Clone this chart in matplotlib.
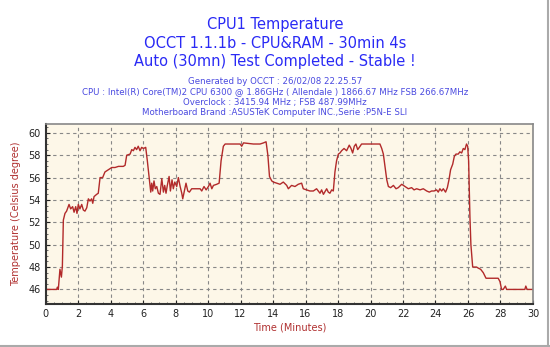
import numpy as np
import matplotlib
matplotlib.use("Agg")
import matplotlib.pyplot as plt
from matplotlib.ticker import MultipleLocator
from matplotlib.lines import Line2D

# Dati (minuti, gradi Celsius)
minutes = [
    0.0, 0.68, 0.72, 0.78, 0.88, 0.97, 1.03, 1.09, 1.19, 1.29, 1.44, 1.54, 1.66, 1.75, 1.85,
    1.93, 2.01, 2.11, 2.22, 2.32, 2.42, 2.53, 2.63, 2.73, 2.83, 2.9, 2.98, 3.14, 3.24, 3.35,
    3.51, 3.65, 3.86, 4.07, 4.27, 4.48, 4.78, 4.89, 4.99, 5.2, 5.3, 5.4, 5.5, 5.6, 5.7,
    5.81, 5.91, 6.02, 6.16, 6.26, 6.37, 6.47, 6.53, 6.59, 6.67, 6.75, 6.84, 6.94, 7.04, 7.15,
    7.25, 7.33, 7.41, 7.49, 7.6, 7.68, 7.78, 7.86, 7.95, 8.07, 8.17, 8.28, 8.38, 8.44, 8.54,
    8.64, 8.75, 8.85, 8.99, 9.3, 9.51, 9.61, 9.75, 9.88, 10.02, 10.12, 10.23, 10.33, 10.53, 10.68,
    10.8, 10.94, 11.05, 11.25, 11.97, 12.07, 12.18, 12.79, 13.2, 13.41, 13.57, 13.68, 13.78, 13.92, 14.02,
    14.22, 14.43, 14.63, 14.84, 14.94, 15.14, 15.35, 15.55, 15.76, 15.86, 16.07, 16.27, 16.48, 16.68, 16.89,
    16.99, 17.1, 17.3, 17.4, 17.5, 17.61, 17.71, 17.81, 17.91, 18.02, 18.12, 18.22, 18.37, 18.53, 18.69,
    18.8, 18.9, 19.0, 19.1, 19.21, 19.31, 19.45, 19.97, 20.58, 20.69, 20.79, 20.89, 21.0, 21.1, 21.24,
    21.41, 21.57, 21.71, 21.92, 22.12, 22.33, 22.53, 22.68, 22.84, 23.05, 23.25, 23.46, 23.62, 23.76, 23.91,
    24.07, 24.17, 24.27, 24.38, 24.48, 24.62, 24.73, 24.83, 24.93, 25.06, 25.16, 25.26, 25.4, 25.5, 25.61,
    25.71, 25.81, 25.91, 25.98, 26.04, 26.12, 26.18, 26.29, 26.37, 26.53, 26.64, 26.78, 26.94, 27.11, 27.35,
    27.86, 27.97, 28.07, 28.17, 28.3, 28.38, 28.99, 29.5, 29.56, 29.64, 30.0,
]
temperature = [
    46.0, 46.0, 46.2, 46.0, 47.8, 47.1, 48.1, 52.2, 52.8, 53.0, 53.6, 53.2, 53.4, 52.9, 53.4,
    52.8, 53.6, 53.2, 53.6, 53.1, 53.0, 53.3, 54.1, 53.9, 54.1, 53.7, 54.3, 54.5, 54.6, 56.0,
    56.0, 56.5, 56.7, 56.9, 56.9, 57.0, 57.0, 57.1, 58.0, 58.1, 58.5, 58.4, 58.7, 58.5, 58.8,
    58.4, 58.7, 58.6, 58.7, 57.5, 56.0, 54.7, 55.5, 54.8, 55.7, 55.0, 55.2, 54.6, 54.5, 55.9,
    54.7, 55.3, 54.6, 55.3, 56.1, 54.8, 55.8, 55.0, 55.6, 55.2, 56.0, 55.2, 54.6, 54.1, 54.8,
    55.5, 54.8, 54.7, 55.0, 55.0, 55.0, 54.8, 55.2, 54.9, 55.2, 55.5, 55.0, 55.3, 55.4, 55.5,
    57.5, 58.8, 59.0, 59.0, 59.0, 58.8, 59.1, 59.0, 59.0, 59.1, 59.2, 58.0, 56.1, 55.7, 55.6,
    55.5, 55.4, 55.6, 55.3, 55.0, 55.3, 55.2, 55.4, 55.5, 55.0, 54.9, 54.8, 54.8, 55.0, 54.6,
    54.9, 54.5, 55.0, 54.7, 54.6, 54.9, 54.8, 56.5, 57.5, 58.1, 58.2, 58.4, 58.6, 58.4, 58.9,
    58.6, 58.2, 58.8, 59.0, 58.5, 58.7, 59.0, 59.0, 59.0, 58.6, 58.1, 57.0, 55.8, 55.2, 55.1,
    55.3, 55.0, 55.1, 55.4, 55.2, 55.0, 55.1, 54.9, 55.0, 54.9, 55.0, 54.8, 54.7, 54.8, 54.8,
    54.9, 54.7, 55.0, 54.8, 55.0, 54.7, 55.1, 55.8, 56.7, 57.2, 57.9, 58.1, 58.1, 58.3, 58.2,
    58.6, 58.5, 59.0, 58.8, 57.5, 52.5, 50.0, 48.0, 48.0, 48.0, 47.9, 47.8, 47.5, 47.0, 47.0,
    47.0, 46.7, 46.0, 46.0, 46.3, 46.0, 46.0, 46.0, 46.3, 46.0, 46.0,
]

titolo = ["CPU1 Temperature",
          "OCCT 1.1.1b - CPU&RAM - 30min 4s",
          "Auto (30mn) Test Completed - Stable !"]
info = ["Generated by OCCT : 26/02/08 22.25.57",
        "CPU : Intel(R) Core(TM)2 CPU 6300 @ 1.86GHz ( Allendale ) 1866.67 MHz FSB 266.67MHz",
        "Overclock : 3415.94 MHz ; FSB 487.99MHz",
        "Motherboard Brand :ASUSTeK Computer INC.,Serie :P5N-E SLI"]

fig = plt.figure(figsize=(5.5, 3.47), dpi=100, facecolor="white")
ax = fig.add_axes([0.083, 0.124, 0.886, 0.519])
ax.set_facecolor("#fdf7e8")

ax.plot(minutes, temperature, color="#b22a2a", linewidth=1.0)

ax.set_xlim(0, 30)
ax.set_ylim(44.7, 60.8)
ax.xaxis.set_major_locator(MultipleLocator(2))
ax.yaxis.set_major_locator(MultipleLocator(2))
ax.xaxis.set_minor_locator(MultipleLocator(0.5))
ax.yaxis.set_minor_locator(MultipleLocator(0.5))
ax.tick_params(which="major", labelsize=7, length=3, direction="in", colors="#222222")
ax.tick_params(which="minor", length=1.5, direction="in", colors="#555555")
ax.grid(True, which="major", linestyle=(0, (3, 3)), color="#888888", linewidth=0.8)

for lato in ["left", "bottom"]:
    ax.spines[lato].set_color("#333333")
    ax.spines[lato].set_linewidth(1.5)
for lato in ["top", "right"]:
    ax.spines[lato].set_color("#888888")
    ax.spines[lato].set_linewidth(1.2)

ax.set_xlabel("Time (Minutes)", fontsize=7, color="#b03030", labelpad=3)
ax.set_ylabel("Temperature (Celsius degree)", fontsize=7, color="#b03030", labelpad=5)

# Titoli
for testo, y in zip(titolo, [0.928, 0.876, 0.822]):
    fig.text(0.5, y, testo, ha="center", va="center", fontsize=10.5, color="#2a2af5")
for testo, y in zip(info, [0.764, 0.735, 0.706, 0.676]):
    fig.text(0.5, y, testo, ha="center", va="center", fontsize=6.25, color="#4a4ae0")

# Bordo grigio a destra e in basso
fig.add_artist(Line2D([0.996, 0.996], [0.0, 1.0], transform=fig.transFigure, color="#aaaaaa", linewidth=1.5))
fig.add_artist(Line2D([0.0, 1.0], [0.004, 0.004], transform=fig.transFigure, color="#aaaaaa", linewidth=1.5))

fig.savefig("out.png", dpi=100)
